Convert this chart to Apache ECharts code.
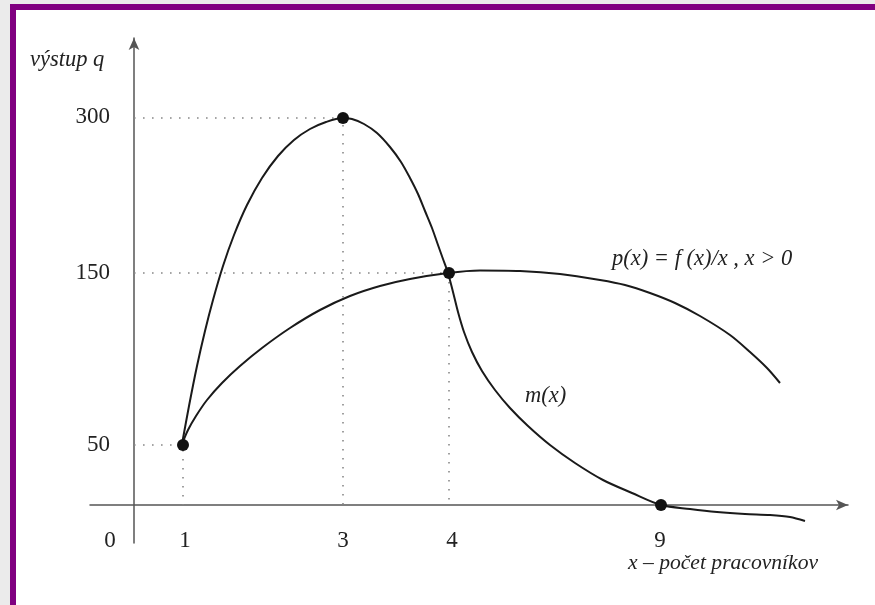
<!DOCTYPE html>
<html>
<head>
<meta charset="utf-8">
<script src="https://cdn.jsdelivr.net/npm/echarts@6/dist/echarts.min.js"></script>
<style>
  html, body { margin: 0; padding: 0; background: #ebebeb; }
  #frame {
    position: absolute; left: 10px; top: 4px; right: 0; bottom: 0;
    border-top: 6px solid #800080; border-left: 6px solid #800080;
    background: #fff;
  }
  #chart { position: absolute; left: 0; top: 0; width: 875px; height: 605px; }
</style>
</head>
<body>
<div id="frame"></div>
<div id="chart"></div>
<script>
// schematic axis units (the drawing is not to scale)
// key points on the curves and their tick labels
const keyX = [4.9, 20.9, 31.5, 52.7];
const keyY = [6.0, 38.7, 23.2, 0];
const xTickPos = [-2.4, 5.1, 20.9, 31.8, 52.6];
const xTickLabels = ["0", "1", "3", "4", "9"];
const yTickPos = [6.0, 23.2, 38.8];
const yTickLabels = ["50", "150", "300"];

// m(x) curve
const mCurve = [
  [4.8, 6.1], [5.5, 9.9], [6.3, 13.9], [7.1, 17.4], [7.9, 20.5], [8.9, 23.9],
  [10.0, 27.0], [11.3, 30.0], [12.8, 32.7], [14.4, 34.9], [16.0, 36.5], [17.6, 37.6],
  [19.2, 38.3], [20.8, 38.7], [21.8, 38.6], [23.0, 38.1], [24.3, 37.2], [25.6, 35.8],
  [26.7, 34.3], [27.6, 32.7], [28.4, 31.1], [29.1, 29.4], [29.8, 27.7], [30.4, 26.0],
  [30.9, 24.6], [31.4, 23.2], [31.9, 21.3], [32.4, 19.3], [33.0, 17.3], [33.8, 15.3],
  [34.8, 13.4], [36.1, 11.5], [37.6, 9.7], [39.4, 7.9], [41.6, 6.0], [44.1, 4.2],
  [46.9, 2.5], [49.8, 1.2], [52.7, 0], [55.6, -0.4], [58.3, -0.7], [61.1, -0.9],
  [63.6, -1.0], [65.6, -1.2], [67.1, -1.6]
];

// p(x) = f(x)/x curve
const pCurve = [
  [4.8, 6.1], [5.4, 7.5], [6.2, 8.9], [7.3, 10.5], [8.8, 12.2], [10.6, 13.9],
  [12.8, 15.7], [15.6, 17.7], [18.6, 19.5], [21.6, 20.9], [24.6, 21.9], [27.6, 22.6],
  [31.4, 23.2], [34.6, 23.45], [38.6, 23.4], [42.6, 23.1], [46.6, 22.5], [49.1, 22.0],
  [51.6, 21.2], [54.1, 20.2], [56.6, 18.9], [59.6, 17.0], [61.6, 15.3], [63.3, 13.7],
  [64.6, 12.2]
];

const serif = "Liberation Serif";
const chart = echarts.init(document.getElementById("chart"));

// dotted guides from the axes to the first three key points
const guides = [0, 1, 2].map(function (i) {
  return {
    type: "line",
    data: [[0, keyY[i]], [keyX[i], keyY[i]], [keyX[i], 0]],
    showSymbol: false,
    silent: true,
    lineStyle: { color: "#888", width: 1.6, type: [1.6, 7.4] },
    z: 1
  };
});

const option = {
  animation: false,
  backgroundColor: "transparent",
  grid: { left: 90, right: 27, top: 38, bottom: 62, containLabel: false },
  xAxis: {
    type: "value",
    min: -4.4,
    max: 71.4,
    axisLine: {
      onZero: true,
      symbol: ["none", "arrow"],
      symbolSize: [8, 12],
      lineStyle: { color: "#555", width: 1.5 }
    },
    axisTick: { show: false },
    splitLine: { show: false },
    axisLabel: {
      customValues: xTickPos,
      formatter: function (v) {
        const i = xTickPos.indexOf(v);
        return i >= 0 ? xTickLabels[i] : "";
      },
      margin: -14,
      color: "#222",
      fontFamily: serif,
      fontSize: 23
    }
  },
  yAxis: {
    type: "value",
    min: -3.8,
    max: 46.7,
    axisLine: {
      onZero: true,
      symbol: ["none", "arrow"],
      symbolSize: [8, 12],
      lineStyle: { color: "#555", width: 1.5 }
    },
    axisTick: { show: false },
    splitLine: { show: false },
    axisLabel: {
      customValues: yTickPos,
      formatter: function (v) {
        const i = yTickPos.indexOf(v);
        return i >= 0 ? yTickLabels[i] : "";
      },
      margin: -20,
      color: "#222",
      fontFamily: serif,
      fontSize: 23
    }
  },
  graphic: [
    { type: "text", left: 30, top: 49,
      style: { text: "výstup q", font: "italic 22.5px " + serif, fill: "#222" } },
    { type: "text", left: 628, top: 552,
      style: { text: "x – počet pracovníkov", font: "italic 21.6px " + serif, fill: "#222" } },
    { type: "text", left: 525, top: 385,
      style: { text: "m(x)", font: "italic 22.5px " + serif, fill: "#222" } },
    { type: "text", left: 612, top: 248,
      style: { text: "p(x) = f (x)/x , x > 0", font: "italic 22.5px " + serif, fill: "#222" } }
  ],
  series: guides.concat([
    {
      type: "line",
      name: "m(x)",
      data: mCurve,
      smooth: 0.3,
      showSymbol: false,
      lineStyle: { color: "#1a1a1a", width: 2 },
      z: 3
    },
    {
      type: "line",
      name: "p(x)",
      data: pCurve,
      smooth: 0.3,
      showSymbol: false,
      lineStyle: { color: "#1a1a1a", width: 2 },
      z: 3
    },
    {
      type: "scatter",
      data: keyX.map(function (x, i) { return [x, keyY[i]]; }),
      symbolSize: 12,
      itemStyle: { color: "#111", opacity: 1 },
      z: 5
    }
  ])
};
option && chart.setOption(option);
</script>
</body>
</html>
